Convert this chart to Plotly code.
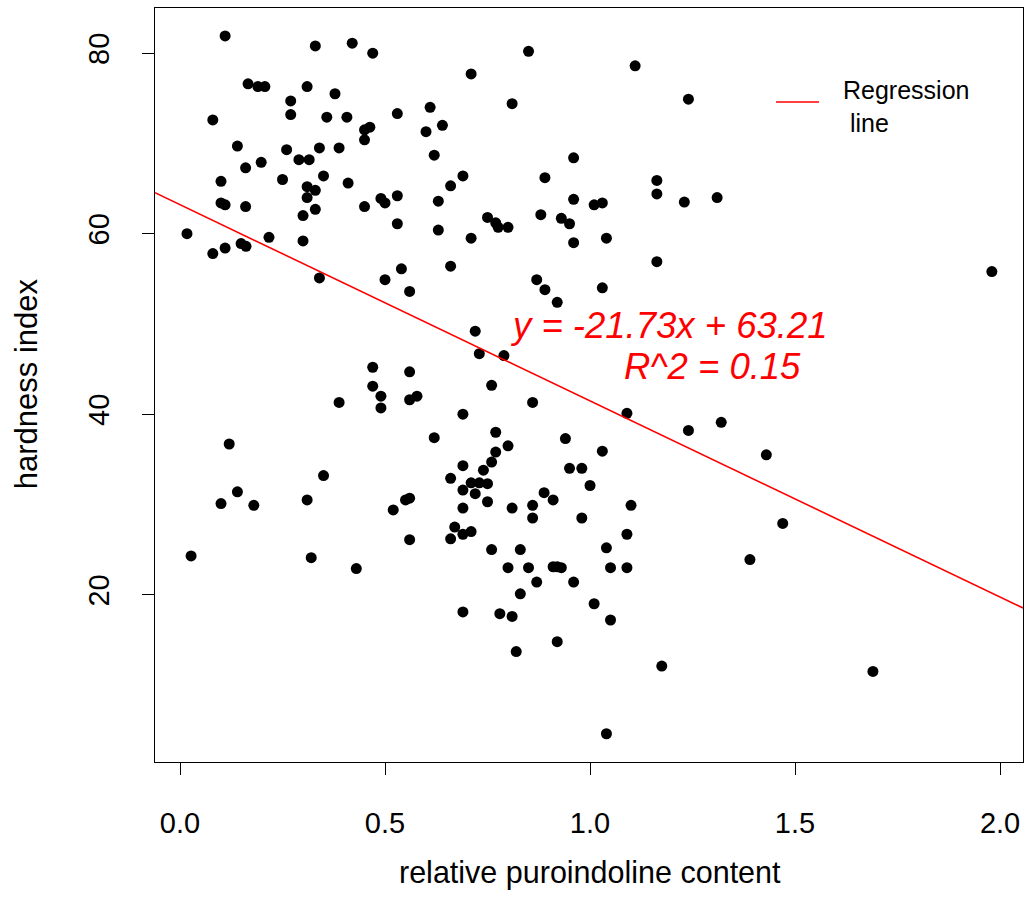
import plotly.graph_objects as go

# relative puroindoline content (x) and hardness index (y)
puro = [0.11, 0.33, 0.42, 0.47, 0.166, 0.19, 0.207, 0.31, 0.378, 0.27, 0.27, 0.08, 0.358, 0.407,
        0.53, 0.61, 0.64, 0.45, 0.463, 0.45, 0.60, 0.14, 0.26, 0.34, 0.388, 0.62, 0.29, 0.315,
        0.16, 0.198, 0.10, 0.25, 0.35, 0.41, 0.31, 0.33, 0.31, 0.53, 0.49, 0.50, 0.45, 0.63,
        0.10, 0.11, 0.16, 0.33,
        0.85, 0.71, 1.11, 0.81, 1.24, 0.96, 0.69, 0.66, 0.89, 1.163, 1.163, 1.23, 1.31, 0.96,
        1.01, 1.03,
        0.30, 0.53, 0.63, 0.017, 0.08, 0.11, 0.149, 0.161, 0.217, 0.30, 0.34, 0.50, 0.54, 0.56,
        0.47, 0.56, 0.47,
        0.75, 0.77, 0.776, 0.80, 0.88, 0.93, 0.95, 0.71, 0.96, 1.04, 0.66, 1.163, 0.87, 0.89,
        0.92, 1.03, 0.72, 0.73, 0.79, 0.76, 1.98,
        0.49, 0.388, 0.49, 0.56, 0.578, 0.62, 0.12, 0.35, 0.14, 0.10, 0.18, 0.31, 0.55, 0.56,
        0.52, 0.56, 0.027, 0.32, 0.43,
        0.86, 0.69, 1.09, 1.24, 1.32, 0.77, 0.80, 0.77, 0.94, 1.03, 0.76, 0.74, 0.69, 0.95,
        0.98, 0.66, 0.71, 0.73, 0.75, 0.69, 0.72, 1.00, 0.888, 0.91, 0.75, 0.69, 0.81, 0.86,
        0.86, 0.98, 1.10, 0.67, 0.66, 0.69, 0.71, 1.09, 0.76, 0.83, 1.04,
        0.80, 0.85, 0.91, 0.92, 0.93, 1.05, 1.09, 0.87, 0.96, 0.83, 1.01, 0.69, 0.78, 0.81,
        1.05, 0.92, 0.82, 1.175, 1.04,
        1.43, 1.47, 1.39, 1.69]

hardness = [81.9, 80.8, 81.1, 80.0, 76.6, 76.3, 76.3, 76.3, 75.5, 74.7, 73.2, 72.6, 72.9, 72.9,
            73.3, 74.0, 72.0, 71.5, 71.8, 70.4, 71.3, 69.7, 69.3, 69.5, 69.5, 68.7, 68.2, 68.2,
            67.3, 67.9, 65.8, 66.0, 66.4, 65.6, 65.2, 64.8, 64.0, 64.2, 63.9, 63.4, 63.0, 63.6,
            63.4, 63.2, 63.0, 62.7,
            80.2, 77.7, 78.6, 74.4, 74.9, 68.4, 66.4, 65.3, 66.2, 65.9, 64.4, 63.5, 64.0, 63.8,
            63.2, 63.4,
            62.0, 61.1, 60.4, 60.0, 57.8, 58.4, 58.9, 58.6, 59.6, 59.2, 55.1, 54.9, 56.1, 53.6,
            45.2, 44.7, 43.1,
            61.8, 61.2, 60.7, 60.7, 62.1, 61.7, 61.1, 59.5, 59.0, 59.5, 56.4, 56.9, 54.9, 53.8,
            52.4, 54.0, 49.2, 46.7, 46.5, 43.2, 55.8,
            42.0, 41.3, 40.7, 41.6, 42.0, 37.4, 36.7, 33.2, 31.4, 30.1, 29.9, 30.5, 30.5, 30.7,
            29.4, 26.1, 24.3, 24.1, 22.9,
            41.3, 40.0, 40.1, 38.2, 39.1, 38.0, 36.5, 35.8, 37.3, 35.9, 34.7, 33.8, 34.3, 34.0,
            34.0, 32.9, 32.4, 32.4, 32.3, 31.6, 31.2, 32.1, 31.3, 30.5, 30.3, 29.6, 29.6, 29.9,
            28.5, 28.5, 29.9, 27.5, 26.2, 26.7, 27.0, 26.7, 25.0, 25.0, 25.2,
            23.0, 23.0, 23.1, 23.1, 23.0, 23.0, 23.0, 21.4, 21.4, 20.1, 19.0, 18.1, 17.9, 17.6,
            17.2, 14.8, 13.7, 12.1, 4.6,
            35.5, 27.9, 23.9, 11.5]

slope = -21.73
intercept = 63.21
r_squared = 0.15

x_range = [-0.061, 2.056]
y_range = [1.47, 85.0]
x_ticks = [0.0, 0.5, 1.0, 1.5, 2.0]
y_ticks = [20, 40, 60, 80]

FONT = "Liberation Sans, Arial, sans-serif"

line_x = x_range
line_y = [intercept + slope * v for v in line_x]

fig = go.Figure()
fig.add_trace(go.Scatter(x=puro, y=hardness, mode="markers",
                         marker=dict(color="black", size=11, line=dict(width=0)),
                         showlegend=False, hoverinfo="x+y"))
fig.add_trace(go.Scatter(x=line_x, y=line_y, mode="lines",
                         line=dict(color="#ff0000", width=1.6),
                         showlegend=False))

fig.update_layout(
    width=1027, height=919,
    margin=dict(l=155, r=4, t=8, b=157),
    paper_bgcolor="white", plot_bgcolor="white",
    font=dict(family=FONT, color="black"),
    xaxis=dict(range=x_range, tickvals=x_ticks, ticktext=[f"{v:.1f}" for v in x_ticks],
               showgrid=False, zeroline=False, showline=True, linecolor="black", linewidth=1,
               mirror=True, ticks="outside", ticklen=12, tickwidth=1, tickcolor="black",
               tickfont=dict(size=29, family=FONT), ticklabelstandoff=23),
    yaxis=dict(range=y_range, tickvals=y_ticks, ticktext=[str(v) for v in y_ticks],
               showgrid=False, zeroline=False, showline=True, linecolor="black", linewidth=1,
               mirror=True, ticks="outside", ticklen=12, tickwidth=1, tickcolor="black",
               tickangle=-90, tickfont=dict(size=29, family=FONT), ticklabelstandoff=21),
)

annotations = [
    dict(text="relative puroindoline content", xref="paper", yref="paper",
         x=0.501, y=-0.147, xanchor="center", yanchor="middle", showarrow=False,
         font=dict(size=30.5, family=FONT, color="black")),
    dict(text="hardness index", xref="paper", yref="paper",
         x=-0.1486, y=0.501, xanchor="center", yanchor="middle", textangle=-90,
         showarrow=False, font=dict(size=31, family=FONT, color="black")),
    dict(text=f"<i>y = {slope:.2f}x + {intercept:.2f}</i>", xref="paper", yref="paper",
         x=0.4067, y=(762 - 325) / 754, xanchor="left", yanchor="middle", showarrow=False,
         font=dict(size=36.5, family=FONT, color="#ff0000")),
    dict(text=f"<i>R^2 = {r_squared:.2f}</i>", xref="paper", yref="paper",
         x=0.538, y=(762 - 366.5) / 754, xanchor="left", yanchor="middle", showarrow=False,
         font=dict(size=36.5, family=FONT, color="#ff0000")),
    dict(text="Regression<br>\u00a0line", xref="paper", yref="paper",
         x=(841 - 155) / 868, y=(762 - 106) / 754, xanchor="left", yanchor="middle",
         align="left", showarrow=False,
         font=dict(size=25, family=FONT, color="black")),
]
fig.update_layout(annotations=annotations)
fig.add_shape(type="line", xref="paper", yref="paper",
              x0=(776 - 155) / 868, x1=(819 - 155) / 868,
              y0=(762 - 102) / 754, y1=(762 - 102) / 754,
              line=dict(color="#ff0000", width=1.6))

fig.write_html("out.html")
